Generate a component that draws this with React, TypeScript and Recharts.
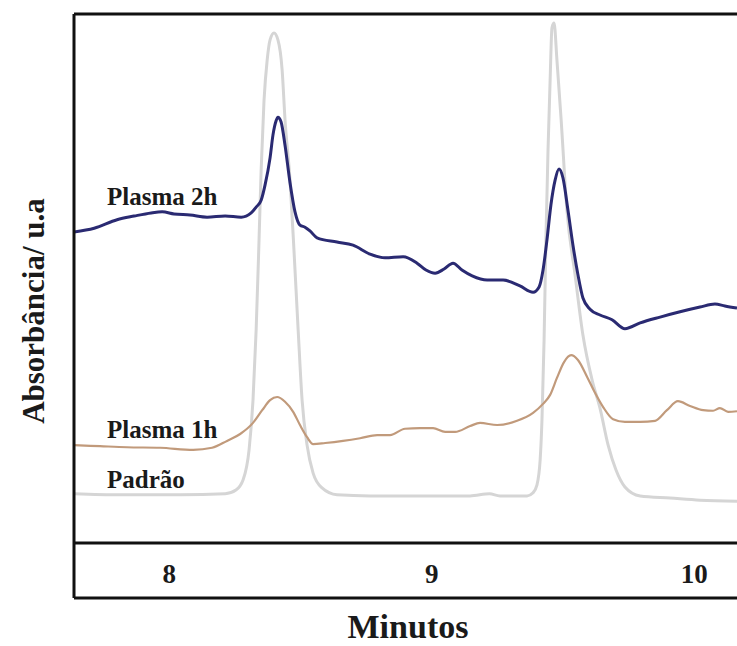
import { LineChart, Line, XAxis, YAxis, ReferenceLine } from 'recharts';

// retention time (min) / absorbance (a.u.)
const padraoTime = [7.637, 7.813, 8.041, 8.213, 8.254, 8.281, 8.304, 8.319, 8.331, 8.342, 8.35, 8.361, 8.373, 8.384, 8.399, 8.414, 8.43, 8.441, 8.46, 8.475, 8.491, 8.506, 8.525, 8.548, 8.582, 8.639, 8.765, 8.955, 9.146, 9.22, 9.26, 9.363, 9.386, 9.401, 9.413, 9.42, 9.428, 9.435, 9.443, 9.451, 9.458, 9.466, 9.477, 9.493, 9.515, 9.546, 9.576, 9.611, 9.641, 9.672, 9.702, 9.736, 9.794, 9.908, 10.022, 10.163];
const padraoAbs = [9.3, 9.1, 9.1, 9.3, 10.0, 11.9, 17.6, 27.0, 40.3, 57.3, 70.5, 83.7, 91.3, 95.1, 96.4, 95.1, 89.4, 80.0, 68.6, 55.4, 40.3, 27.0, 18.5, 13.2, 10.4, 9.1, 8.9, 8.9, 8.9, 9.3, 8.9, 8.9, 9.5, 11.0, 15.7, 23.3, 38.4, 57.3, 74.3, 87.5, 97.4, 98.3, 91.3, 80.0, 62.9, 50.7, 39.3, 30.8, 25.5, 18.5, 13.8, 10.6, 8.9, 8.5, 8.1, 7.9];

const plasma1hTime = [7.637, 7.736, 7.839, 7.965, 8.091, 8.163, 8.22, 8.27, 8.319, 8.354, 8.384, 8.411, 8.441, 8.472, 8.498, 8.525, 8.548, 8.594, 8.662, 8.727, 8.792, 8.841, 8.898, 8.955, 9.005, 9.051, 9.089, 9.146, 9.184, 9.249, 9.325, 9.386, 9.424, 9.451, 9.477, 9.504, 9.531, 9.557, 9.592, 9.622, 9.653, 9.691, 9.736, 9.794, 9.851, 9.896, 9.938, 9.984, 10.034, 10.072, 10.098, 10.129, 10.163];
const plasma1hAbs = [18.5, 18.3, 18.1, 18.0, 17.6, 18.0, 19.3, 20.6, 22.7, 25.1, 27.0, 27.6, 26.7, 24.8, 22.3, 20.0, 18.7, 18.9, 19.3, 19.8, 20.4, 20.4, 21.6, 21.7, 21.7, 21.0, 21.0, 22.1, 22.7, 22.3, 23.1, 24.6, 26.3, 28.0, 31.2, 34.2, 35.5, 34.6, 31.4, 28.4, 25.7, 23.4, 22.9, 22.9, 23.1, 25.1, 26.8, 25.9, 25.1, 25.0, 25.5, 24.8, 24.9];

const plasma2hTime = [7.637, 7.714, 7.801, 7.866, 7.931, 7.973, 8.018, 8.079, 8.144, 8.213, 8.274, 8.312, 8.331, 8.35, 8.365, 8.384, 8.395, 8.407, 8.414, 8.426, 8.441, 8.46, 8.479, 8.498, 8.517, 8.536, 8.563, 8.639, 8.7, 8.765, 8.822, 8.891, 8.944, 8.978, 9.013, 9.047, 9.081, 9.115, 9.154, 9.211, 9.272, 9.336, 9.386, 9.409, 9.424, 9.439, 9.454, 9.47, 9.485, 9.5, 9.519, 9.538, 9.557, 9.576, 9.603, 9.641, 9.687, 9.736, 9.794, 9.87, 9.946, 10.022, 10.079, 10.117, 10.163];
const plasma2hAbs = [58.8, 59.5, 61.1, 61.8, 62.4, 62.6, 62.2, 62.0, 61.6, 61.8, 61.6, 62.4, 63.5, 64.8, 67.7, 72.8, 77.1, 79.8, 80.5, 79.6, 75.2, 68.1, 62.6, 60.1, 59.7, 59.0, 57.7, 56.9, 56.3, 54.6, 53.9, 54.1, 52.9, 51.6, 51.0, 51.8, 52.9, 51.6, 50.5, 49.7, 49.7, 48.6, 47.4, 48.4, 51.6, 57.3, 63.9, 68.6, 70.7, 69.0, 62.9, 56.3, 50.7, 46.3, 44.2, 43.1, 42.2, 40.5, 41.6, 42.7, 43.7, 44.6, 45.2, 44.8, 44.4];

const xTicks = [8, 9, 10];

const zip = (ts: number[], as: number[]) => ts.map((t, i) => ({ t, a: as[i] }));

const SERIF = "'Liberation Serif', 'Times New Roman', serif";

const renderTick = (props: any) => (
  <text x={props.x} y={props.y - 15} textAnchor="middle" fontFamily={SERIF} fontSize={27} fontWeight="bold" fill="#1a1a1a">
    {props.payload.value}
  </text>
);

export default function App() {
  const padrao = zip(padraoTime, padraoAbs);
  const plasma1h = zip(plasma1hTime, plasma1hAbs);
  const plasma2h = zip(plasma2hTime, plasma2hAbs);

  return (
    <div style={{ position: 'absolute', left: 0, top: 0, width: 737, height: 646, background: '#fff' }}>
      <LineChart width={737} height={646} margin={{ top: 14, right: 0, bottom: 0, left: 0 }}>
        <XAxis
          type="number"
          dataKey="t"
          domain={[7.637, 10.163]}
          allowDataOverflow
          ticks={xTicks}
          tickLine={false}
          tickSize={0}
          tickMargin={0}
          height={48}
          axisLine={{ stroke: '#111', strokeWidth: 3 }}
          tick={renderTick}
        />
        <YAxis
          type="number"
          domain={[-10.4, 100]}
          allowDataOverflow
          width={74}
          tick={false}
          tickLine={false}
          axisLine={{ stroke: '#111', strokeWidth: 3 }}
        />
        <ReferenceLine y={100} stroke="#111" strokeWidth={3} />
        <ReferenceLine y={0} stroke="#111" strokeWidth={3} />
        <Line data={padrao} dataKey="a" type="monotone" stroke="#d5d5d5" strokeWidth={3} dot={false} isAnimationActive={false} />
        <Line data={plasma1h} dataKey="a" type="monotone" stroke="#c19a7b" strokeWidth={2.2} dot={false} isAnimationActive={false} />
        <Line data={plasma2h} dataKey="a" type="monotone" stroke="#2a2a72" strokeWidth={3} dot={false} isAnimationActive={false} />
      </LineChart>

      {/* text labels */}
      <svg width={737} height={646} style={{ position: 'absolute', left: 0, top: 0, pointerEvents: 'none' }}>
        <g fontFamily={SERIF} fontWeight="bold" fill="#1a1a1a">
          <text x={107} y={205} fontSize={25}>Plasma 2h</text>
          <text x={107} y={438} fontSize={25}>Plasma 1h</text>
          <text x={107} y={488} fontSize={25}>Padrão</text>
          <text x={408} y={638} fontSize={34} textAnchor="middle">Minutos</text>
          <text x={44} y={311} fontSize={31} textAnchor="middle" transform="rotate(-90 44 311)">Absorbância/ u.a</text>
        </g>
      </svg>
    </div>
  );
}
